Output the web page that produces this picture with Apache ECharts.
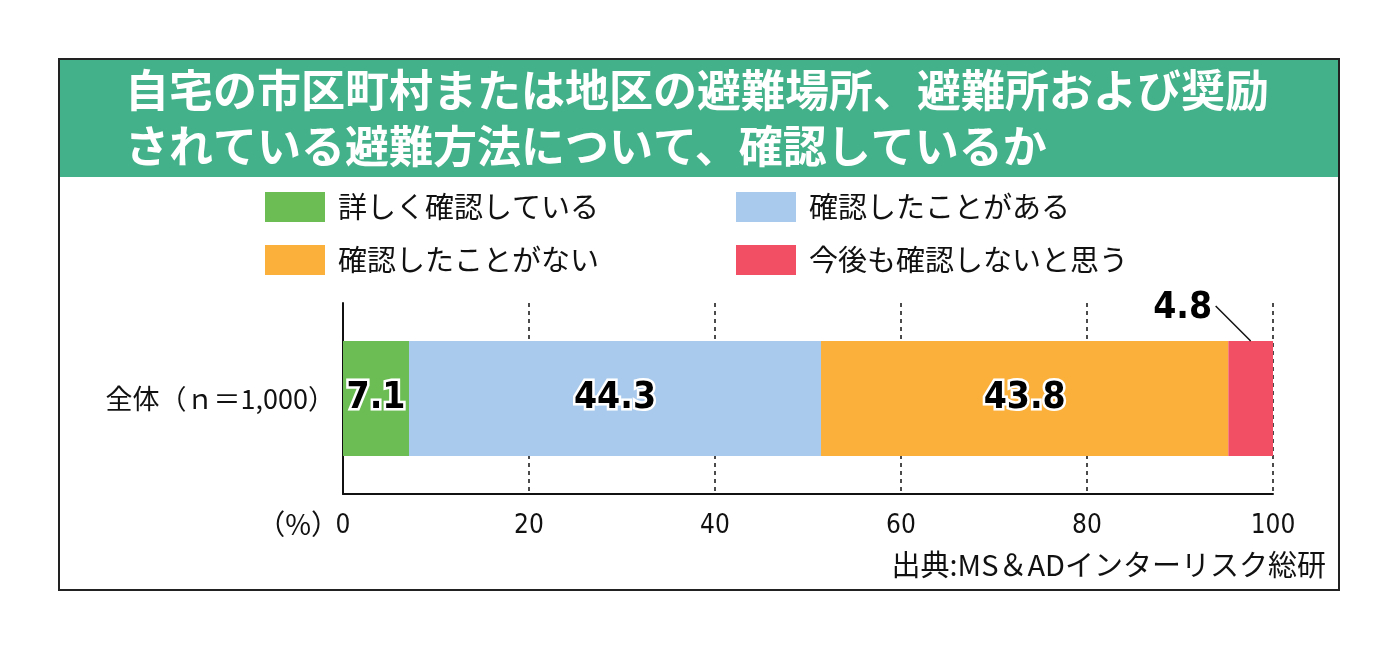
<!DOCTYPE html>
<html>
<head>
<meta charset="utf-8">
<title>避難場所の確認状況</title>
<script src="https://cdn.jsdelivr.net/npm/echarts@6/dist/echarts.min.js"></script>
<style>
  html, body { margin: 0; padding: 0; background: #fff; }
  #chart { width: 1398px; height: 650px; }
</style>
</head>
<body>
<div id="chart"></div>
<script>
// data
const categories = ['全体（ｎ＝1,000）'];
const seriesNames = ['詳しく確認している', '確認したことがある', '確認したことがない', '今後も確認しないと思う'];
const valuesDetailed = [7.1];
const valuesChecked = [44.3];
const valuesNotChecked = [43.8];
const valuesNever = [4.8];
const colors = ['#6cbd53', '#a9caed', '#fbb03b', '#f24e64'];

const JP = '"Noto Sans CJK JP", "Noto Sans", sans-serif';
const NARROW = '"Liberation Sans Narrow", "DejaVu Sans Condensed", "Roboto", sans-serif';

const barLabel = {
  show: true,
  position: 'inside',
  fontFamily: NARROW,
  fontWeight: 'bold',
  fontSize: 37,
  color: '#000',
  textBorderColor: '#fff',
  textBorderWidth: 5
};

// one legend per item so the two columns line up like the original
const legendSpots = [[265, 192], [736, 192], [265, 245], [736, 245]];
const legends = seriesNames.map((name, i) => ({
  data: [name],
  left: legendSpots[i][0], top: legendSpots[i][1],
  padding: 0,
  itemWidth: 60, itemHeight: 30,
  icon: 'rect', selectedMode: false,
  textStyle: { fontFamily: JP, fontSize: 29, color: '#111', padding: [0, 0, 0, 8] }
}));

var myChart = echarts.init(document.getElementById('chart'));

myChart.setOption({
  animation: false,
  title: {
    text: '自宅の市区町村または地区の避難場所、避難所および奨励\nされている避難方法について、確認しているか',
    left: 125,
    top: 62,
    padding: 0,
    textStyle: {
      fontFamily: JP,
      fontWeight: 'bold',
      fontSize: 44,
      lineHeight: 56,
      color: '#fff'
    }
  },
  graphic: {
    elements: [
      {
        type: 'rect', id: 'frame', silent: true,
        shape: { x: 59, y: 59, width: 1280, height: 531 },
        style: { fill: 'none', stroke: '#222', lineWidth: 2 }
      },
      {
        type: 'rect', id: 'header', silent: true,
        shape: { x: 60, y: 60, width: 1278, height: 117 },
        style: { fill: '#43b18a' }
      },
      {
        type: 'text', id: 'unit', silent: true,
        style: { x: 339, y: 524, text: '（%）', font: '28px ' + JP, fill: '#111', align: 'right', verticalAlign: 'middle' }
      },
      {
        type: 'text', id: 'source', silent: true,
        style: { x: 1326, y: 565, text: '出典:MS＆ADインターリスク総研', font: '29px ' + JP, fill: '#111', align: 'right', verticalAlign: 'middle' }
      }
    ]
  },
  legend: legends,
  grid: { left: 343, right: 125, top: 303, bottom: 156 },
  xAxis: {
    type: 'value',
    min: 0, max: 100, interval: 20,
    axisLine: { show: true, lineStyle: { color: '#111', width: 2 } },
    axisTick: { show: false },
    axisLabel: { fontFamily: NARROW, fontSize: 26, color: '#111', margin: 19 },
    splitLine: { show: true, lineStyle: { color: '#111', type: [4, 4], width: 1.5 } }
  },
  yAxis: {
    type: 'category',
    data: categories,
    axisLine: { show: true, lineStyle: { color: '#111', width: 2 } },
    axisTick: { show: false },
    axisLabel: { fontFamily: JP, fontSize: 27, color: '#111', margin: 8 }
  },
  series: [
    { name: seriesNames[0], type: 'bar', stack: 'all', barWidth: 115, data: valuesDetailed, itemStyle: { color: colors[0] }, label: barLabel },
    { name: seriesNames[1], type: 'bar', stack: 'all', barWidth: 115, data: valuesChecked, itemStyle: { color: colors[1] }, label: barLabel },
    { name: seriesNames[2], type: 'bar', stack: 'all', barWidth: 115, data: valuesNotChecked, itemStyle: { color: colors[2] }, label: barLabel },
    {
      name: seriesNames[3], type: 'bar', stack: 'all', barWidth: 115, data: valuesNever,
      itemStyle: { color: colors[3] },
      label: Object.assign({}, barLabel, {
        position: 'top', distance: 0, verticalAlign: 'middle', align: 'center',
        offset: [-68, -33], textBorderWidth: 0
      })
    }
  ]
});

// leader line for the small segment, from the bar top centre up-left
const before = valuesDetailed[0] + valuesChecked[0] + valuesNotChecked[0];
const mid = myChart.convertToPixel({ xAxisIndex: 0, yAxisIndex: 0 }, [before + valuesNever[0] / 2, 0]);
const barTop = mid[1] - 115 / 2;
myChart.setOption({
  graphic: {
    elements: [{
      type: 'line', id: 'leader', z: 10, silent: true,
      shape: { x1: mid[0], y1: barTop, x2: mid[0] - 35, y2: barTop - 35 },
      style: { stroke: '#111', lineWidth: 1.5 }
    }]
  }
});
</script>
</body>
</html>
